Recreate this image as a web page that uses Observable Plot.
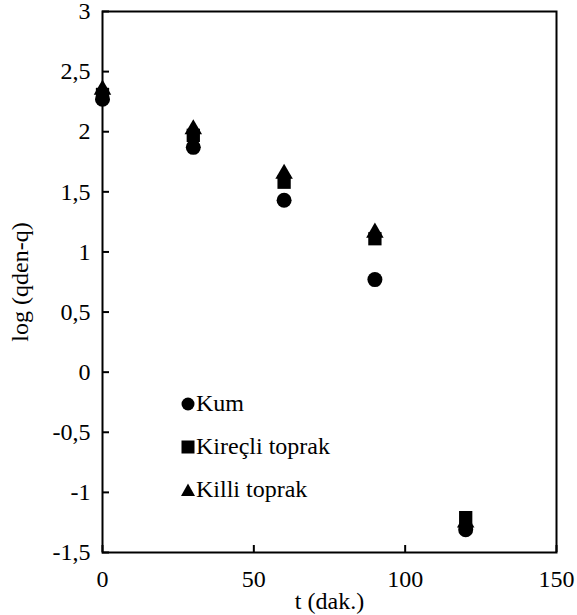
<!DOCTYPE html>
<html>
<head>
<meta charset="utf-8">
<script src="https://cdn.jsdelivr.net/npm/d3@7"></script>
<script src="https://cdn.jsdelivr.net/npm/@observablehq/plot@0.6"></script>
<style>
  html, body { margin: 0; padding: 0; background: #fff; }
  #wrap { position: relative; width: 577px; height: 615px; font-family: 'Liberation Serif', serif; }
  #chart svg, #chart svg text { font-family: 'Liberation Serif', serif !important; }
  #legend { position: absolute; left: 181px; top: 382px; font-size: 24px; color: #000; }
  #legend .item { display: flex; align-items: center; height: 43px; }
  #legend svg { margin-right: 1px; }
</style>
</head>
<body>
<div id="wrap"><div id="chart"></div><div id="legend"></div></div>
<script>
const times = [0, 30, 60, 90, 120];
const kum = [2.27, 1.87, 1.43, 0.77, -1.31];
const kirecli = [2.31, 1.97, 1.58, 1.11, -1.21];
const killi = [2.35, 2.02, 1.65, 1.16, -1.25];
const seriesNames = ["Kum", "Kireçli toprak", "Killi toprak"];
const xTicks = [0, 50, 100, 150];
const yTicks = [-1.5, -1, -0.5, 0, 0.5, 1, 1.5, 2, 2.5, 3];

const mk = (vals, name) => times.map((t, i) => ({t, v: vals[i], s: name}));
const dKum = mk(kum, seriesNames[0]);
const dKir = mk(kirecli, seriesNames[1]);
const dKil = mk(killi, seriesNames[2]);

const fmt = d => String(d).replace(".", ",");

const chart = Plot.plot({
  width: 577,
  height: 615,
  marginLeft: 102,
  marginRight: 21,
  marginTop: 11,
  marginBottom: 63,
  style: {fontSize: "24px", color: "#000", background: "#fff", overflow: "visible"},
  x: {domain: [0, 150]},
  y: {domain: [-1.5, 3]},
  marks: [
    Plot.frame({stroke: "#000", strokeWidth: 2}),
    Plot.axisX({ticks: xTicks, tickSize: -7, tickPadding: 24, tickFormat: fmt, strokeWidth: 2, label: "t (dak.)", labelAnchor: "center", labelArrow: "none", labelOffset: 56, fontSize: 24}),
    Plot.axisY({ticks: yTicks, tickSize: -7, tickPadding: 19, tickFormat: fmt, strokeWidth: 2, label: "log (qden-q)", labelAnchor: "center", labelArrow: "none", labelOffset: 92, fontSize: 24}),
    Plot.dot(dKil, {x: "t", y: "v", symbol: "triangle", fill: "#000", r: 6.5}),
    Plot.dot(dKir, {x: "t", y: "v", symbol: "square", fill: "#000", r: 7.5}),
    Plot.dot(dKum, {x: "t", y: "v", symbol: "circle", fill: "#000", r: 7.5})
  ]
});
document.getElementById("chart").appendChild(chart);

const symbols = ["circle", "square", "triangle"];
const leg = document.getElementById("legend");
seriesNames.forEach((name, i) => {
  const item = document.createElement("div");
  item.className = "item";
  const s = symbols[i];
  let shape = "";
  if (s === "circle") shape = '<circle cx="7" cy="7" r="6.5" fill="#000"/>';
  if (s === "square") shape = '<rect x="0.5" y="0.5" width="13" height="13" fill="#000"/>';
  if (s === "triangle") shape = '<path d="M7,0.5 L14,13 L0,13 Z" fill="#000"/>';
  item.innerHTML = '<svg width="14" height="14">' + shape + '</svg><span>' + name + '</span>';
  leg.appendChild(item);
});
</script>
</body>
</html>
